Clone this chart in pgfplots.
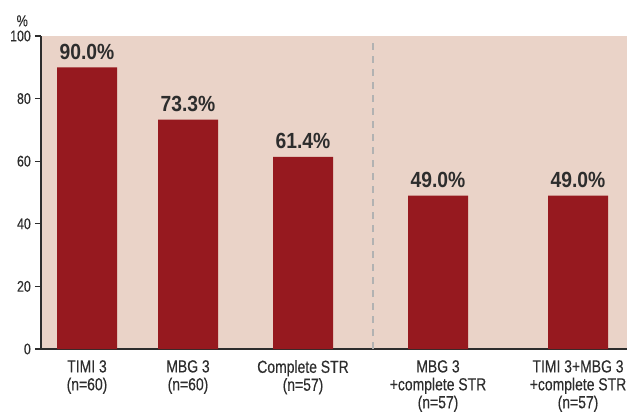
\documentclass[border=0pt]{standalone}
\usepackage{pgfplots}
\pgfplotsset{compat=1.18}
\usepackage{fontspec}
\setmainfont{Liberation Sans}[FakeStretch=0.8, FakeBold=0.3]
\newfontfamily\valfont{Liberation Sans}[FakeStretch=0.88]
\definecolor{bg}{RGB}{234,211,200}
\definecolor{barc}{RGB}{150,25,31}
\definecolor{txt}{RGB}{45,45,45}
\begin{document}
\begin{tikzpicture}[x=1bp,y=1bp]
\useasboundingbox (0,0) rectangle (629,412);
\begin{axis}[
  at={(41bp,63bp)}, anchor=south west,
  scale only axis, width=586bp, height=313bp,
  xmin=41, xmax=627, ymin=0, ymax=100,
  axis lines=left, axis line style={-, line width=1.5bp, draw=txt},
  axis background/.style={fill=bg},
  ytick={0,20,40,60,80,100},
  tick align=outside, major tick length=6bp,
  ytick style={line width=1.2bp, draw=txt},
  xtick={87,188,303,438,578},
  xtick style={draw=none},
  xticklabels={{TIMI 3\\(n=60)},{MBG 3\\(n=60)},{Complete STR\\(n=57)},{MBG 3\\+complete STR\\(n=57)},{TIMI 3+MBG 3\\+complete STR\\(n=57)}},
  xticklabel style={align=center, font=\fontsize{17.5}{18}\selectfont, text=txt, inner sep=0pt, anchor=north, yshift=-5bp},
  yticklabel style={font=\fontsize{15.5}{16}\selectfont, text=txt, inner sep=0pt, xshift=-4bp},
  /pgf/number format/assume math mode=true,
  ylabel={\%}, ylabel style={rotate=-90, at={(axis description cs:-0.032,1.03)}, anchor=south, font=\fontsize{16}{16}\selectfont, text=txt, inner sep=0pt},
  clip=false,
]
\addplot[draw=gray!60, line width=1.2bp, dash pattern=on 7bp off 6bp] coordinates {(373,0) (373,98)};
\addplot[ybar, bar width=60, fill=barc, draw=none,
  point meta=explicit symbolic,
  nodes near coords,
  every node near coord/.append style={font=\valfont\bfseries\fontsize{22}{22}\selectfont, text=txt, inner sep=0pt, anchor=base, yshift=8bp}]
  coordinates {(87,90)[90.0\%] (188,73.3)[73.3\%] (303,61.4)[61.4\%] (438,49.0)[49.0\%] (578,49.0)[49.0\%]};
\end{axis}
\end{tikzpicture}
\end{document}
